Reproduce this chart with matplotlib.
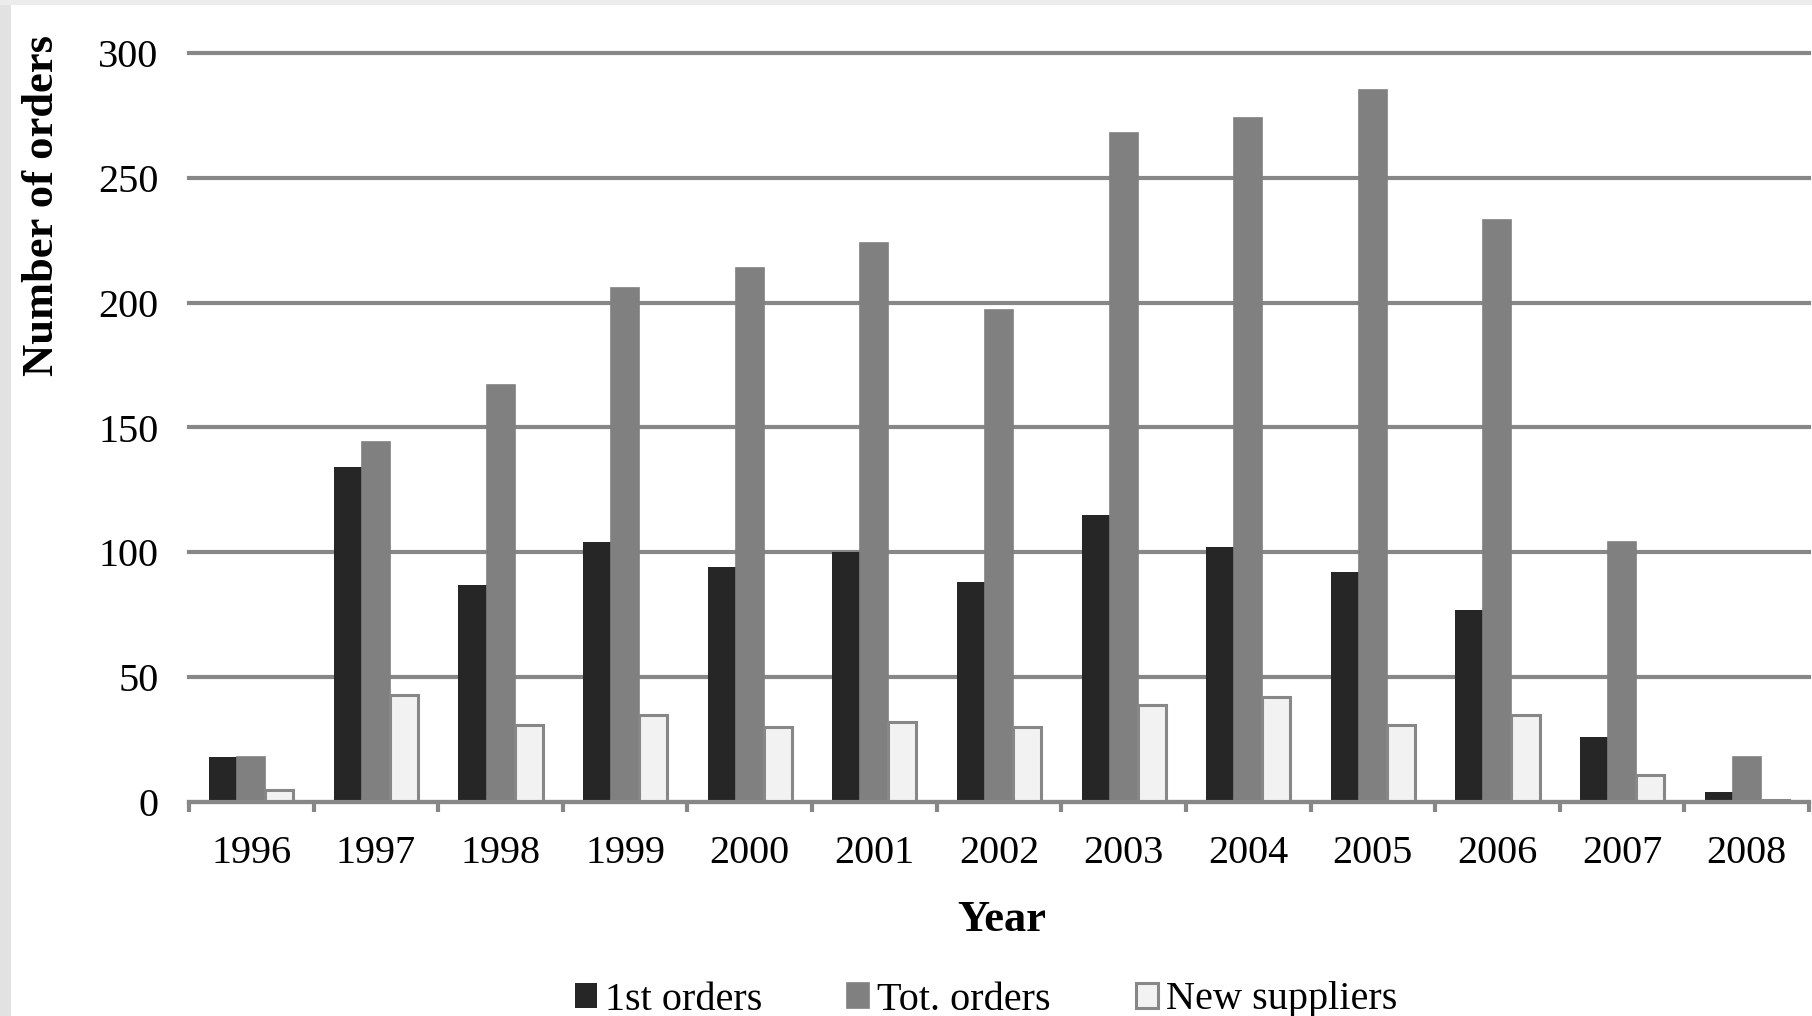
import numpy as np
import matplotlib
matplotlib.use("Agg")
import matplotlib.pyplot as plt
from matplotlib.patches import Rectangle

plt.rcParams['font.family'] = ['Liberation Serif', 'DejaVu Serif']

# ----- data -----
years = ['1996', '1997', '1998', '1999', '2000', '2001', '2002',
         '2003', '2004', '2005', '2006', '2007', '2008']
first_orders = [18, 134, 87, 104, 94, 100, 88, 115, 102, 92, 77, 26, 4]
tot_orders = [18, 144, 167, 206, 214, 224, 197, 268, 274, 285, 233, 104, 18]
new_suppliers = [5, 43, 31, 35, 30, 32, 30, 39, 42, 31, 35, 11, 1]

grid_col = '#878787'

fig = plt.figure(figsize=(18.12, 10.16), dpi=100)
fig.patch.set_facecolor('white')
# thin grey frame strips along the left and top edges
fig.add_artist(Rectangle((0, 0), 11 / 1812, 1, transform=fig.transFigure,
                         facecolor='#e2e2e2', edgecolor='none', zorder=0))
fig.add_artist(Rectangle((0, 1 - 5 / 1016), 1, 5 / 1016, transform=fig.transFigure,
                         facecolor='#ececec', edgecolor='none', zorder=0))

ax = fig.add_axes([189 / 1812, 214 / 1016, 1620 / 1812, 749 / 1016])

x = np.arange(len(years))
w = 0.225
ax.bar(x - w, first_orders, w, color='#262626', label='1st orders', zorder=3)
ax.bar(x, tot_orders, w, color='#808080', edgecolor='#808080', linewidth=1.2,
       label='Tot. orders', zorder=3)
ax.bar(x + w, new_suppliers, w, color='#f2f2f2', edgecolor=grid_col, linewidth=2.2,
       label='New suppliers', zorder=3)

ax.set_xlim(-0.5, len(years) - 0.5)
ax.set_ylim(0, 300)
ax.set_yticks(np.arange(0, 301, 50))
ax.yaxis.grid(True, color=grid_col, linewidth=3)
ax.set_axisbelow(True)
for gl in ax.get_ygridlines():
    gl.set_clip_on(False)

# category ticks on the boundaries, labels at the centres
ax.set_xticks(np.arange(-0.5, len(years)), minor=False)
ax.set_xticklabels([])
ax.set_xticks(x, minor=True)
ax.set_xticklabels(years, minor=True)
ax.tick_params(axis='x', which='major', length=7.5, width=3, color=grid_col, direction='out')
ax.tick_params(axis='x', which='minor', length=0, pad=24, labelsize=29)
ax.tick_params(axis='y', length=0, pad=22, labelsize=29)

for s in ['top', 'right', 'left']:
    ax.spines[s].set_visible(False)
ax.spines['bottom'].set_color(grid_col)
ax.spines['bottom'].set_linewidth(3)
ax.spines['bottom'].set_zorder(4)

fig.text(1002 / 1812, 1 - 920 / 1016, 'Year', ha='center', va='center',
         fontsize=32, fontweight='bold')
fig.text(42 / 1812, 1 - 205 / 1016, 'Number of orders', ha='center', va='center',
         rotation=90, fontsize=32, fontweight='bold')

fig.legend(loc='center', bbox_to_anchor=(986 / 1812, 1 - 1000 / 1016), ncol=3,
           frameon=False, fontsize=29, handlelength=0.55, handleheight=0.57,
           handletextpad=0.2, columnspacing=2.1, borderpad=0)

fig.savefig('out.png', dpi=100, facecolor=fig.get_facecolor())
